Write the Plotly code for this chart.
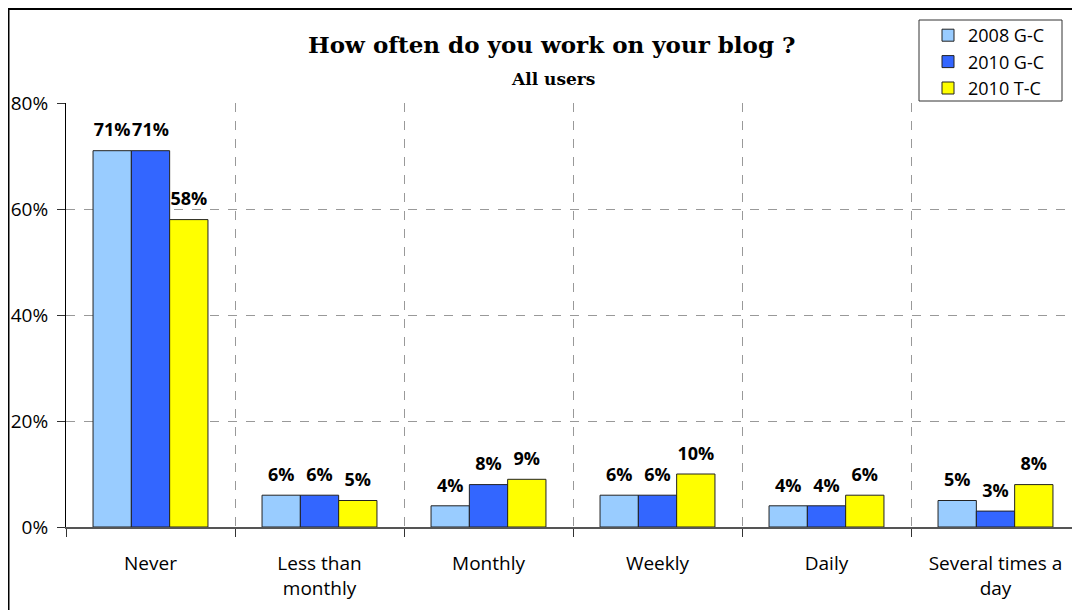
import plotly.graph_objects as go

categories = ["Never", "Less than<br>monthly", "Monthly", "Weekly", "Daily", "Several times a<br>day"]
g2008 = [71, 6, 4, 6, 4, 5]
g2010 = [71, 6, 8, 6, 4, 3]
t2010 = [58, 5, 9, 10, 6, 8]

series = [
    ("2008 G-C", g2008, "#99CCFF"),
    ("2010 G-C", g2010, "#3366FF"),
    ("2010 T-C", t2010, "#FFFF00"),
]

# page body adds an 8px offset, so the figure is a bit smaller than the window
W, H = 1072, 602
L, T, B = 58, 95, 83
PW, PH = W - L, H - T - B
GAP = 0.32


def px(fx, fy):
    # figure pixels -> paper coords
    return (fx - L) / PW, (H - B - fy) / PH


fig = go.Figure()
for i, (name, vals, color) in enumerate(series):
    fig.add_trace(go.Bar(
        x=categories, y=vals, name=name, offsetgroup=str(i),
        marker=dict(color=color, line=dict(color="#222222", width=1)),
    ))
# value labels sit a little higher above the bars than bar "outside" text does
for i, (name, vals, color) in enumerate(series):
    fig.add_trace(go.Scatter(
        x=categories, y=vals, offsetgroup=str(i), mode="markers+text",
        marker=dict(size=14, opacity=0), showlegend=False, hoverinfo="skip",
        text=[f"{v}%" for v in vals], textposition="top center",
        textfont=dict(family="Open Sans", size=18, color="black", weight="bold"),
        cliponaxis=False,
    ))

fig.update_layout(
    width=W, height=H,
    margin=dict(l=L, r=0, t=T, b=B, autoexpand=False),
    plot_bgcolor="white", paper_bgcolor="white",
    barmode="group", bargap=GAP, bargroupgap=0.0,
    scattermode="group", scattergap=GAP,
    font=dict(family="Open Sans", size=19, color="black"),
    showlegend=True,
    legend=dict(xref="container", yref="container",
                x=920 / W, y=1 - 9 / H, xanchor="left", yanchor="top",
                borderwidth=0, bgcolor="rgba(0,0,0,0)",
                font=dict(size=18), tracegroupgap=0, itemwidth=30),
)

fig.update_xaxes(
    tickson="boundaries", ticks="outside", ticklen=8, tickcolor="#333333",
    showgrid=True, gridcolor="#999999", griddash="dash", gridwidth=1,
    showline=True, linecolor="#555555", linewidth=2,
    tickfont=dict(size=19), automargin=False, ticklabelstandoff=18,
)
fig.update_yaxes(
    range=[0, 80], dtick=20, ticksuffix="%",
    ticks="outside", ticklen=8, tickcolor="#333333",
    showgrid=True, gridcolor="#999999", griddash="dash", gridwidth=1,
    showline=True, linecolor="black", linewidth=1,
    zeroline=False, tickfont=dict(size=19), automargin=False, ticklabelstandoff=5,
)

tx, ty = px(544, 36)
fig.add_annotation(text="<b>How often do you work on your blog ?</b>", xref="paper", yref="paper",
                   x=tx, y=ty, xanchor="center", yanchor="middle", showarrow=False,
                   font=dict(family="DejaVu Serif", size=23, color="black"))
sx, sy = px(545, 71)
fig.add_annotation(text="<b>All users</b>", xref="paper", yref="paper",
                   x=sx, y=sy, xanchor="center", yanchor="middle", showarrow=False,
                   font=dict(family="DejaVu Serif", size=17, color="black"))

# legend box
x0, y0 = px(911, 93)
x1, y1 = px(1054, 12)
fig.add_shape(type="rect", xref="paper", yref="paper", x0=x0, x1=x1, y0=y0, y1=y1,
              line=dict(color="#333333", width=1), fillcolor="white", layer="below")

# outer chart frame
fx0, fy1 = px(0.5, 1)
fig.add_shape(type="rect", xref="paper", yref="paper",
              x0=fx0, x1=1.05, y0=-0.5, y1=fy1,
              line=dict(color="black", width=2), layer="below")

fig.write_html("out.html")
